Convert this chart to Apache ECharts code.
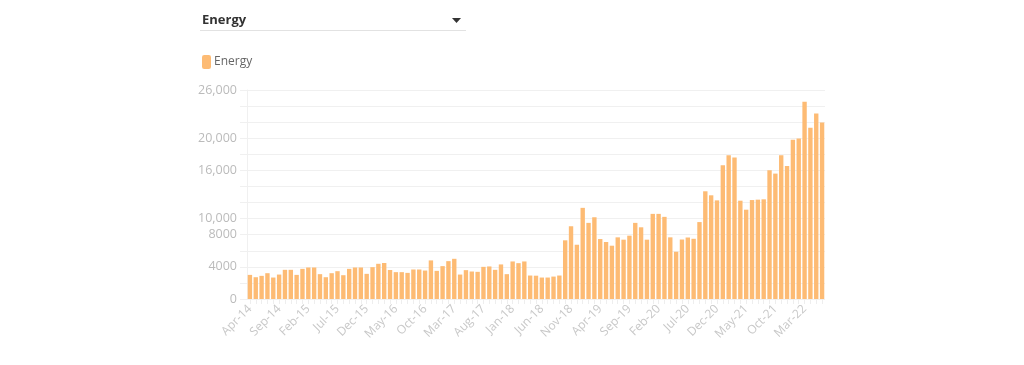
<!DOCTYPE html>
<html>
<head>
<meta charset="utf-8">
<script src="https://cdn.jsdelivr.net/npm/echarts@6/dist/echarts.min.js"></script>
<style>
html,body{margin:0;padding:0;background:#fff;}
#chart{width:1024px;height:365px;}
</style>
</head>
<body>
<div id="chart"></div>
<script>
const months = ['Jan','Feb','Mar','Apr','May','Jun','Jul','Aug','Sep','Oct','Nov','Dec'];
const categories = [];
for (let y = 2014, m = 3; categories.length < 99; ) {
  categories.push(months[m] + '-' + String(y).slice(2));
  m++; if (m === 12) { m = 0; y++; }
}
const energyValues = [
  3000, 2710, 2880, 3210, 2670, 3040, 3630, 3630, 3000, 3750,
  3920, 3920, 3090, 2710, 3210, 3460, 2960, 3750, 3920, 3920,
  3130, 3960, 4380, 4480, 3610, 3340, 3340, 3250, 3670, 3670,
  3540, 4800, 3500, 4090, 4710, 5000, 3040, 3590, 3420, 3380,
  4000, 4050, 3630, 4300, 3090, 4670, 4460, 4670, 2920, 2900,
  2670, 2670, 2790, 2920, 7300, 9050, 6750, 11340, 9470, 10170,
  7460, 7090, 6630, 7670, 7380, 7880, 9470, 8920, 7380, 10590,
  10590, 10220, 7670, 5880, 7400, 7650, 7490, 9570, 13400, 12900,
  12270, 16640, 17890, 17600, 12230, 11110, 12310, 12360, 12400, 16020,
  15600, 17890, 16560, 19800, 19970, 24540, 21300, 23090, 21960
];
const yLabelValues = [0, 4000, 8000, 10000, 16000, 20000, 26000];
const seriesName = 'Energy';

const chart = echarts.init(document.getElementById('chart'), null, {renderer: 'canvas'});
const font = '"Open Sans", "Noto Sans", sans-serif';
chart.setOption({
  animation: false,
  textStyle: {fontFamily: font},
  graphic: [
    {type: 'text', left: 202, top: 14, style: {text: seriesName, fontSize: 13, fontWeight: 'bold', fill: '#333', fontFamily: font}},
    {type: 'line', shape: {x1: 200, y1: 30.5, x2: 466, y2: 30.5}, style: {stroke: '#e2e2e2', lineWidth: 1}},
    {type: 'polygon', shape: {points: [[452, 18], [461, 18], [456.5, 23]]}, style: {fill: '#333'}}
  ],
  legend: {
    left: 197, top: 50,
    icon: 'roundRect',
    itemWidth: 9, itemHeight: 14, itemGap: 10,
    textStyle: {color: '#666', fontSize: 12, fontFamily: font, padding: [0, 0, 0, -2]},
    data: [seriesName]
  },
  grid: {left: 247, right: 199, top: 90, bottom: 66, containLabel: false},
  xAxis: {
    type: 'category',
    data: categories,
    axisLine: {show: false},
    axisTick: {show: true, alignWithLabel: true, interval: 0, length: 5, lineStyle: {color: '#eeeeee'}},
    axisLabel: {interval: 4, rotate: 45, color: '#c8c8c8', fontSize: 12, fontFamily: font, margin: 8}
  },
  yAxis: {
    type: 'value',
    min: 0, max: 26000, interval: 2000,
    axisLine: {show: true, lineStyle: {color: '#f0f0f0'}},
    axisTick: {show: true, length: 7, lineStyle: {color: '#f0f0f0'}},
    splitLine: {show: true, lineStyle: {color: '#f0f0f0'}},
    axisLabel: {
      color: '#bbbbbb', fontSize: 12.5, fontFamily: font, margin: 10,
      formatter: function (v) {
        if (yLabelValues.indexOf(v) < 0) return '';
        return v >= 10000 ? v.toLocaleString('en-US') : String(v);
      }
    }
  },
  series: [{
    name: seriesName,
    type: 'bar',
    data: energyValues,
    barCategoryGap: '25%',
    itemStyle: {color: '#FDBB74'}
  }]
});
</script>
</body>
</html>
